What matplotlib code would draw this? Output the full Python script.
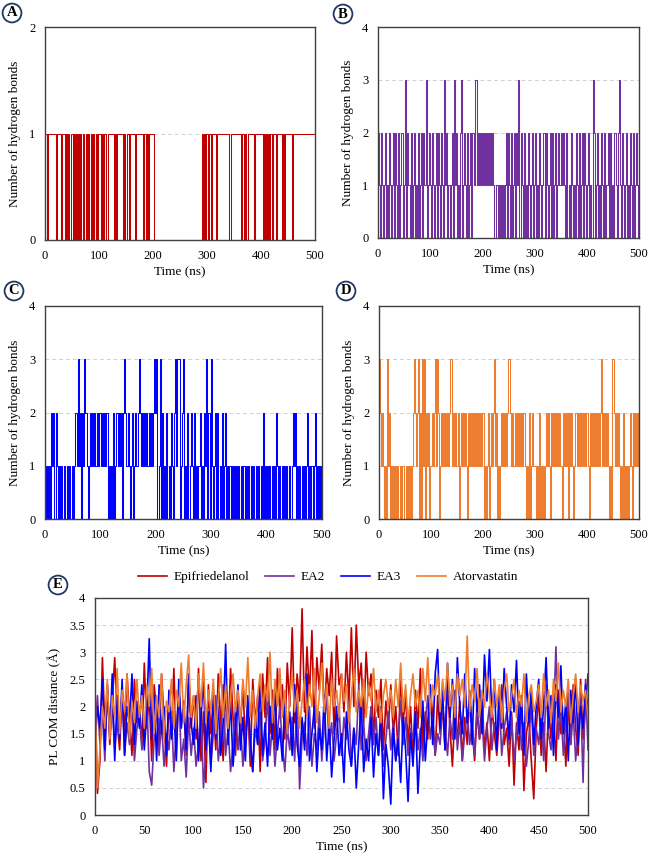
import numpy as np
import matplotlib
matplotlib.use('Agg')
import matplotlib.pyplot as plt

plt.rcParams['font.family'] = ['Liberation Serif', 'DejaVu Serif']

# Numero di legami idrogeno, un carattere ogni 2 ns (gruppi da 20 ns)
hb_epi = ("1101111111 1011101110 1010010101 0101001010 1001010010 "
          "1101011001 1111010111 1110101101 1111011111 1011010111 "
          "1000000000 0000000000 0000000000 0000000000 0000001010 "
          "1011011110 1111111111 1001111111 1101101011 1111011111 "
          "1101010101 1011011111 0101111110 1111111111 1111111111 1")
hb_ea2 = ("2102101201 0210120210 2012013021 1020120102 0120213012 "
          "1021012021 0210312010 1203120102 3012102012 0213312121 "
          "2121212121 2100101010 1012021020 1202130210 2010210120 "
          "1201021012 0210120201 2012112121 0201021010 2102012021 "
          "0120103201 2010210201 1202010210 2310210120 1021020121 0")
hb_ea3 = ("1010102120 2101010010 1010010121 3120213210 1212121212 "
          "2121212010 1020121212 0232121012 0121232121 2121212123 "
          "2301302010 2010210231 3301230102 0121020101 2010213020 "
          "3101202010 2012010101 0101010101 1010101010 0101010201 "
          "0101010102 1010101010 0101212010 1010101201 0101201010 1")
hb_ator = ("3212101031 2010101010 0101101010 1012321230 2031302120 "
           "1212313201 2121212123 3121212012 1212102121 2121212121 "
           "2010120121 2312010121 2121232121 1212121212 2101020121 "
           "1010201010 1212102121 2121210212 1202121012 2121212121 "
           "2102121212 1212312121 2101032121 2101020101 0121021212 1")

# Distanza COM proteina-ligando (A), un valore ogni 2.5 ns
com_epi = [
    2.2, 0.4, 1.0, 2.9, 1.6, 2.4, 1.3, 2.1, 2.9, 1.7,
    1.2, 2.3, 1.5, 2.6, 1.8, 1.1, 2.5, 1.7, 2.0, 1.3,
    2.8, 1.6, 2.2, 1.0, 2.4, 1.9, 1.3, 2.6, 1.8, 0.9,
    2.1, 1.5, 2.7, 1.2, 2.3, 1.7, 2.0, 1.1, 2.5, 1.6,
    2.2, 1.4, 2.7, 1.0, 1.9, 0.6, 2.4, 1.5, 2.1, 1.2,
    2.6, 1.7, 1.0, 2.3, 1.5, 2.7, 1.8, 1.1, 2.2, 1.6,
    2.4, 1.3, 2.0, 0.9, 2.5, 1.7, 2.2, 0.8, 2.6, 1.8,
    2.9, 1.5, 2.3, 1.2, 2.7, 1.9, 2.4, 1.4, 2.8, 2.0,
    3.45, 1.7, 2.6, 2.1, 3.8, 1.9, 3.1, 2.2, 3.4, 1.6,
    2.9, 2.3, 3.15, 1.8, 2.7, 2.2, 3.0, 1.5, 3.3, 2.4,
    2.6, 1.9, 3.0, 2.1, 3.45, 2.0, 3.5, 2.4, 2.8, 1.7,
    3.0, 2.2, 2.6, 1.4, 2.3, 1.8, 2.5, 1.2, 2.1, 1.6,
    2.4, 1.5, 2.0, 1.1, 2.6, 1.7, 2.2, 1.3, 2.0, 1.0,
    2.3, 1.6, 2.7, 1.2, 1.9, 1.4, 2.4, 1.8, 1.1, 2.2,
    1.5, 2.0, 1.2, 2.4, 1.6, 0.9, 1.9, 1.4, 2.1, 1.0,
    1.8, 1.3, 2.3, 1.6, 1.0, 1.9, 1.4, 2.2, 1.2, 1.7,
    1.0, 2.0, 1.5, 1.1, 1.8, 2.4, 1.3, 1.6, 0.9, 1.9,
    0.55, 1.7, 1.2, 2.1, 0.45, 1.5, 1.8, 1.0, 0.3, 1.6,
    2.2, 1.1, 1.7, 0.8, 2.0, 1.4, 1.9, 1.0, 2.3, 1.5,
    1.8, 0.9, 2.1, 1.3, 2.4, 1.6, 1.1, 2.5, 1.4, 2.0,
    2.6]
com_ea2 = [
    1.6, 2.2, 1.3, 1.9, 1.0, 2.4, 1.5, 2.0, 1.2, 1.8,
    1.4, 2.3, 1.1, 1.7, 1.3, 2.1, 1.0, 1.6, 1.9, 1.2,
    1.5, 2.2, 0.8, 0.55, 1.4, 2.0, 1.1, 1.7, 0.9, 1.5,
    1.2, 1.9, 0.8, 1.6, 2.3, 1.0, 1.4, 0.7, 1.8, 1.1,
    1.6, 0.9, 1.3, 2.0, 0.5, 1.2, 1.7, 0.9, 1.5, 2.2,
    1.0, 1.4, 2.4, 1.1, 1.6, 0.8, 1.3, 2.0, 1.2, 1.7,
    0.9, 1.5, 2.1, 1.2, 0.8, 1.6, 1.3, 1.9, 1.0, 1.4,
    2.2, 1.1, 1.7, 0.9, 1.5, 2.0, 1.3, 0.8, 1.6, 1.2,
    1.8, 1.0, 2.3, 0.48, 1.4, 1.7, 1.1, 2.0, 0.9, 1.5,
    1.2, 1.9, 1.0, 1.6, 2.2, 1.3, 1.7, 1.0, 1.5, 2.0,
    1.1, 1.8, 1.4, 2.1, 0.9, 1.6, 1.3, 2.4, 1.2, 1.7,
    1.0, 1.5, 2.0, 1.3, 1.8, 1.1, 1.6, 0.9, 1.4, 1.9,
    1.2, 1.7, 1.0, 1.5, 2.1, 1.3, 1.8, 1.1, 1.6, 1.4,
    1.9, 1.2, 1.6, 1.0, 1.7, 2.2, 1.4, 1.8, 1.1, 1.5,
    1.3, 2.0, 1.6, 1.1, 1.8, 1.4, 2.3, 1.2, 1.7, 1.0,
    1.5, 1.9, 1.3, 1.7, 1.1, 2.1, 1.4, 1.8, 1.0, 1.6,
    2.0, 1.2, 1.7, 1.4, 2.2, 1.1, 1.6, 1.9, 1.3, 1.8,
    1.0, 1.5, 2.1, 1.2, 1.7, 0.9, 1.4, 2.0, 1.1, 1.6,
    1.3, 1.9, 1.0, 2.4, 1.5, 1.2, 1.8, 3.1, 1.4, 2.0,
    1.1, 1.7, 2.3, 1.3, 1.9, 1.0, 1.6, 2.2, 0.6, 2.5,
    1.2]
com_ea3 = [
    1.3, 2.0, 1.6, 2.5, 1.2, 2.3, 1.5, 2.6, 1.0, 2.2,
    1.4, 2.5, 1.1, 2.0, 1.7, 2.6, 1.3, 2.1, 1.6, 2.4,
    1.2, 1.9, 3.25, 1.4, 2.2, 1.0, 2.4, 1.5, 2.0, 1.1,
    2.3, 1.4, 1.9, 1.0, 2.5, 1.6, 2.1, 1.2, 2.6, 1.7,
    1.3, 2.2, 1.0, 1.8, 2.5, 1.2, 1.9, 0.8, 2.3, 1.4,
    2.0, 1.1, 1.7, 3.15, 1.3, 2.1, 0.9, 1.6, 2.4, 1.2,
    1.8, 1.0, 2.2, 1.4, 0.8, 1.9, 1.3, 2.5, 1.1, 1.7,
    0.9, 2.0, 1.4, 2.3, 1.2, 1.6, 1.0, 2.1, 1.5, 1.9,
    1.1, 2.4, 1.3, 0.9, 1.8, 1.2, 2.6, 1.0, 1.5, 2.0,
    0.8, 1.6, 1.2, 2.2, 1.0, 1.7, 0.7, 1.4, 2.0, 1.1,
    1.5, 0.6, 1.9, 1.2, 0.9, 1.6, 0.5, 1.3, 2.1, 0.8,
    1.4, 1.0, 1.8, 0.7, 1.5, 1.1, 2.0, 0.3, 1.3, 0.9,
    0.2, 1.6, 1.0, 1.4, 0.6, 1.8, 1.2, 0.25, 1.5, 0.9,
    1.9, 0.4, 1.3, 2.1, 1.0, 1.7, 2.4, 1.3, 2.6, 3.05,
    1.6, 2.3, 1.2, 2.8, 1.8, 2.5, 1.4, 2.9, 2.0, 1.5,
    2.6, 1.7, 2.2, 1.3, 2.7, 1.9, 2.4, 1.5, 2.95, 2.1,
    3.05, 1.8, 2.5, 1.2, 2.3, 1.6, 2.7, 2.0, 1.4, 2.4,
    1.9, 2.85, 1.5, 2.2, 1.1, 2.6, 1.7, 2.3, 1.3, 2.0,
    2.5, 1.4, 2.0, 2.9, 1.6, 2.2, 1.1, 2.4, 1.8, 2.75,
    1.5, 2.1, 1.0, 2.3, 1.7, 2.5, 1.3, 2.0, 1.6, 2.4,
    1.9]
com_ator = [
    2.3, 0.5, 1.2, 2.0, 1.6, 2.5, 1.4, 2.2, 1.8, 2.7,
    1.5, 2.3, 1.9, 2.6, 1.4, 2.1, 1.7, 2.5, 1.8, 2.2,
    1.6, 2.4, 2.0, 2.7, 1.5, 2.2, 1.8, 2.6, 1.4, 2.1,
    1.9, 2.5, 1.6, 2.3, 2.0, 2.8, 1.7, 2.4, 2.95, 1.8,
    2.2, 1.6, 2.6, 2.0, 2.8, 1.7, 2.3, 1.9, 2.5, 1.5,
    2.1, 2.7, 1.8, 2.4, 1.6, 2.2, 2.6, 1.9, 2.3, 1.7,
    2.5, 2.0, 2.9, 1.8, 2.3, 1.6, 2.2, 2.6, 1.9, 2.4,
    2.1, 3.0, 1.7, 2.5, 2.0, 2.7, 1.8, 2.3, 1.5, 2.2,
    2.6, 1.9, 2.3, 1.6, 2.1, 2.5, 1.8, 2.4, 2.0, 2.7,
    1.7, 2.2, 2.8, 1.9, 2.4, 1.6, 2.5, 2.0, 2.3, 1.8,
    2.6, 2.1, 2.4, 1.7, 2.2, 2.7, 1.9, 2.3, 2.0, 2.5,
    1.8, 2.4, 2.1, 2.7, 1.9, 2.3, 1.7, 2.2, 2.5, 2.0,
    2.3, 1.8, 2.5, 2.0, 2.8, 1.9, 2.4, 1.7, 2.2, 2.6,
    2.0, 2.3, 1.8, 2.7, 2.1, 2.9, 1.9, 2.4, 2.2, 2.6,
    1.9, 2.5, 2.1, 2.8, 2.0, 2.4, 1.8, 2.6, 2.2, 2.5,
    2.0, 3.3, 1.9, 2.4, 2.1, 2.7, 1.8, 2.3, 2.0, 2.6,
    2.2, 1.8, 2.5, 2.0, 2.4, 1.7, 2.3, 2.6, 1.9, 2.2,
    2.5, 1.8, 2.3, 2.0, 2.6, 1.7, 2.2, 2.4, 1.9, 2.1,
    2.4, 1.8, 2.6, 2.0, 2.3, 1.7, 2.5, 2.1, 2.8, 1.9,
    2.3, 2.0, 2.5, 1.7, 2.2, 2.6, 1.9, 2.4, 2.1, 2.3,
    1.8]

nomi = ['Epifriedelanol', 'EA2', 'EA3', 'Atorvastatin']
colori = ['#C00000', '#7030A0', '#0000FF', '#ED7D31']
FS = 9


def leggi_hb(s):
    return np.array([int(c) for c in s.replace(' ', '')])


def stile_assi(ax, ymax, ystep, ylabel):
    ax.set_xlim(0, 500)
    ax.set_ylim(0, ymax)
    ax.set_yticks(np.arange(0, ymax + 0.001, ystep))
    ax.yaxis.grid(True, color='#d0d0d0', linestyle=(0, (4, 3)), lw=0.7)
    ax.set_axisbelow(True)
    ax.tick_params(length=0, labelsize=FS, pad=7)
    for sp in ax.spines.values():
        sp.set_color('#404040')
        sp.set_linewidth(1.0)
    ax.set_xlabel('Time (ns)', fontsize=FS + 0.5, labelpad=3)
    ax.set_ylabel(ylabel, fontsize=FS + 0.5, labelpad=6)


def etichetta(fig, x, y, lettera):
    fig.text(x / 650, 1 - y / 856, lettera, ha='center', va='center',
             fontsize=10.5, fontweight='bold',
             bbox=dict(boxstyle='circle,pad=0.2', fc='white', ec='#1F3864', lw=1.3))


fig = plt.figure(figsize=(6.5, 8.56), dpi=100)

pannelli = [
    ([45, 27, 315, 240], hb_epi, 2, colori[0], 'A', (12, 13)),
    ([378, 27, 639, 238], hb_ea2, 4, colori[1], 'B', (343, 14)),
    ([45, 306, 322, 519], hb_ea3, 4, colori[2], 'C', (14, 291)),
    ([379, 306, 639, 519], hb_ator, 4, colori[3], 'D', (346, 291)),
]
for (x0, y0, x1, y1), s, ymax, col, lett, pos in pannelli:
    ax = fig.add_axes([x0 / 650, 1 - y1 / 856, (x1 - x0) / 650, (y1 - y0) / 856])
    v = leggi_hb(s)
    t = np.linspace(0, 500, len(v))
    ax.plot(t, v, color=col, lw=0.75, drawstyle='steps-mid')
    stile_assi(ax, ymax, 1, 'Number of hydrogen bonds')
    etichetta(fig, pos[0], pos[1], lett)

# Pannello E
axe = fig.add_axes([95 / 650, 1 - 815 / 856, (588 - 95) / 650, (815 - 598) / 856])
for serie, nome, col in zip([com_epi, com_ea2, com_ea3, com_ator], nomi, colori):
    t = np.linspace(0, 500, len(serie))
    axe.plot(t, serie, color=col, lw=1.2, label=nome)
stile_assi(axe, 4, 0.5, 'PL COM distance (Å)')
axe.set_xticks(np.arange(0, 501, 50))
axe.set_yticklabels(['0', '0.5', '1', '1.5', '2', '2.5', '3', '3.5', '4'])
axe.legend(loc='center', bbox_to_anchor=(328 / 650, 1 - 577 / 856),
           bbox_transform=fig.transFigure, ncol=4, frameon=False,
           fontsize=FS + 0.5, handlelength=2.2, columnspacing=1.2, handletextpad=0.5)
etichetta(fig, 58, 585, 'E')

fig.savefig('out.png', dpi=100)
